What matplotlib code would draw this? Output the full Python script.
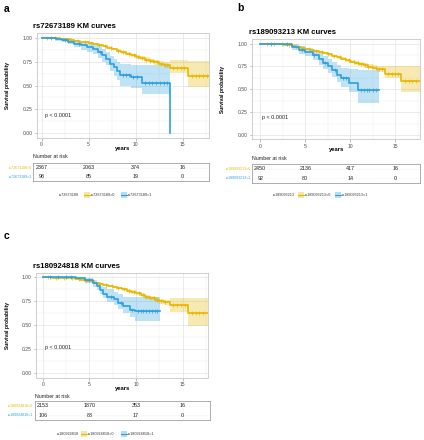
import numpy as np
import matplotlib
matplotlib.use("Agg")
import matplotlib.pyplot as plt
from matplotlib.patches import Rectangle

plt.rcParams['font.family'] = ['Liberation Sans', 'DejaVu Sans']

W, H = 424, 440
YEL = '#E7B800'
BLU = '#2E9FDF'

# ---------------- data ----------------
snps = ['rs72673189', 'rs189093213', 'rs180924818']
time_ticks = [0, 5, 10, 15]
surv_ticks = [0.0, 0.25, 0.5, 0.75, 1.0]
surv_tick_labels = ['0.00', '0.25', '0.50', '0.75', '1.00']

# panel a
ya_t = [0, 0.5, 1, 1.5, 2, 2.5, 3, 3.5, 4, 4.5, 5, 5.5, 6, 6.5, 7, 7.5, 8, 8.5, 9, 9.5,
        10, 10.5, 11, 11.5, 12, 12.5, 13, 13.7, 15.6, 17.9]
ya_s = [1.0, 0.999, 0.997, 0.994, 0.99, 0.984, 0.976, 0.968, 0.96, 0.953, 0.945, 0.935, 0.925, 0.911,
        0.897, 0.882, 0.866, 0.85, 0.833, 0.817, 0.80, 0.786, 0.772, 0.758, 0.745, 0.73, 0.716, 0.68, 0.60, 0.60]
ya_lo = [1.0, 0.998, 0.995, 0.991, 0.986, 0.979, 0.97, 0.961, 0.953, 0.945, 0.936, 0.925, 0.914, 0.899,
         0.884, 0.868, 0.851, 0.834, 0.816, 0.799, 0.781, 0.765, 0.75, 0.734, 0.719, 0.702, 0.685, 0.63, 0.48, 0.48]
ya_hi = [1.0, 1.0, 0.999, 0.997, 0.994, 0.989, 0.982, 0.975, 0.967, 0.961, 0.954, 0.945, 0.936, 0.923,
         0.91, 0.896, 0.881, 0.866, 0.85, 0.835, 0.819, 0.807, 0.794, 0.782, 0.771, 0.758, 0.747, 0.77, 0.76, 0.76]
ba_t = [0, 1.5, 2.2, 2.8, 3.5, 4.2, 4.8, 5.5, 6.0, 6.4, 6.9, 7.3, 7.7, 8.0, 8.4, 9.5, 10.7, 13.65]
ba_s = [1.0, 0.99, 0.98, 0.96, 0.94, 0.92, 0.90, 0.88, 0.85, 0.82, 0.78, 0.73, 0.69, 0.65, 0.61, 0.59, 0.53, 0.0]
ba_lo = [1.0, 0.97, 0.955, 0.93, 0.905, 0.875, 0.85, 0.825, 0.79, 0.75, 0.71, 0.65, 0.60, 0.555, 0.50, 0.47, 0.41, 0.41]
ba_hi = [1.0, 1.0, 1.0, 0.99, 0.975, 0.96, 0.945, 0.93, 0.91, 0.885, 0.85, 0.81, 0.78, 0.75, 0.73, 0.72, 0.72, 0.72]
ya_cens = [0.6, 1.4, 2.3, 3.1, 3.9, 4.6, 5.3, 6.1, 6.8, 7.4, 8.1, 8.7, 9.3, 9.8, 10.3, 10.7, 11.1, 11.5,
           11.9, 12.3, 12.7, 13.1, 13.4, 14.0, 14.4, 14.8, 15.2, 16.0, 16.4, 16.8, 17.2, 17.6]
ba_cens = [1.0, 2.5, 4.0, 6.2, 8.7, 9.0, 9.3, 9.7, 10.2, 11.0, 11.4, 11.8, 12.2, 12.6, 13.0, 13.3]
risk_a0 = [2367, 2063, 374, 16]
risk_a1 = [98, 85, 19, 0]

# panel b
yb_t = [0, 1, 1.5, 2, 2.5, 3, 3.5, 4, 4.5, 5, 5.5, 6, 6.5, 7, 7.5, 8, 8.5, 9, 9.5,
        10, 10.5, 11, 11.5, 12, 12.5, 13, 13.9, 15.6, 17.8]
yb_s = [1.0, 0.999, 0.997, 0.995, 0.989, 0.982, 0.974, 0.965, 0.955, 0.945, 0.935, 0.924, 0.91, 0.896,
        0.881, 0.866, 0.85, 0.833, 0.817, 0.80, 0.786, 0.772, 0.76, 0.748, 0.735, 0.722, 0.67, 0.59, 0.59]
yb_lo = [1.0, 0.998, 0.995, 0.992, 0.985, 0.977, 0.968, 0.959, 0.948, 0.937, 0.926, 0.914, 0.899, 0.884,
         0.868, 0.852, 0.835, 0.817, 0.8, 0.782, 0.767, 0.751, 0.737, 0.723, 0.707, 0.69, 0.62, 0.47, 0.47]
yb_hi = [1.0, 1.0, 0.999, 0.998, 0.993, 0.987, 0.98, 0.971, 0.962, 0.953, 0.944, 0.934, 0.921, 0.908,
         0.894, 0.88, 0.865, 0.849, 0.834, 0.818, 0.805, 0.793, 0.783, 0.773, 0.763, 0.754, 0.75, 0.75, 0.75]
bb_t = [0, 2.8, 3.5, 4.3, 5.0, 5.8, 6.5, 7.0, 7.5, 8.0, 8.5, 9.0, 9.8, 10.9, 13.2]
bb_s = [1.0, 0.99, 0.96, 0.93, 0.91, 0.87, 0.83, 0.79, 0.75, 0.71, 0.66, 0.62, 0.57, 0.49, 0.49]
bb_lo = [1.0, 0.97, 0.93, 0.89, 0.86, 0.815, 0.77, 0.72, 0.68, 0.63, 0.575, 0.53, 0.47, 0.35, 0.35]
bb_hi = [1.0, 1.0, 0.99, 0.97, 0.955, 0.93, 0.895, 0.86, 0.83, 0.80, 0.76, 0.73, 0.72, 0.71, 0.71]
yb_cens = [0.7, 1.5, 2.4, 3.2, 4.0, 4.7, 5.4, 6.2, 6.9, 7.5, 8.2, 8.8, 9.4, 9.9, 10.4, 10.8, 11.2, 11.6,
           12.0, 12.4, 12.8, 13.2, 13.5, 14.2, 14.6, 15.0, 15.3, 16.1, 16.5, 16.9, 17.3]
bb_cens = [1.2, 3.0, 4.6, 6.0, 7.2, 8.3, 9.2, 9.5, 11.2, 11.5, 11.8, 12.1, 12.5, 12.9]
risk_b0 = [2450, 2136, 417, 16]
risk_b1 = [92, 80, 14, 0]

# panel c
yc_t = [0, 1, 1.5, 2, 2.5, 3, 3.5, 4, 4.5, 5, 5.5, 6, 6.5, 7, 7.5, 8, 8.5, 9, 9.5,
        10, 10.5, 11, 11.5, 12, 12.5, 13, 13.6, 15.6, 17.7]
yc_s = [1.0, 0.999, 0.998, 0.997, 0.994, 0.99, 0.984, 0.976, 0.967, 0.958, 0.947, 0.936, 0.925, 0.914,
        0.902, 0.89, 0.876, 0.862, 0.847, 0.832, 0.816, 0.80, 0.783, 0.766, 0.752, 0.738, 0.71, 0.625, 0.625]
yc_lo = [1.0, 0.998, 0.996, 0.995, 0.991, 0.986, 0.979, 0.97, 0.96, 0.95, 0.938, 0.926, 0.914, 0.902,
         0.889, 0.876, 0.861, 0.846, 0.83, 0.814, 0.797, 0.779, 0.761, 0.742, 0.725, 0.708, 0.64, 0.49, 0.49]
yc_hi = [1.0, 1.0, 1.0, 0.999, 0.997, 0.994, 0.989, 0.982, 0.974, 0.966, 0.956, 0.946, 0.936, 0.926,
         0.915, 0.904, 0.891, 0.878, 0.864, 0.85, 0.835, 0.821, 0.805, 0.79, 0.779, 0.768, 0.78, 0.78, 0.78]
bc_t = [0, 3.6, 4.5, 5.4, 5.8, 6.1, 6.5, 6.85, 7.6, 8.1, 8.6, 9.4, 9.9, 12.6]
bc_s = [1.0, 0.99, 0.97, 0.94, 0.91, 0.87, 0.83, 0.80, 0.77, 0.73, 0.70, 0.66, 0.65, 0.65]
bc_lo = [1.0, 0.97, 0.945, 0.905, 0.87, 0.825, 0.78, 0.745, 0.71, 0.665, 0.63, 0.585, 0.54, 0.54]
bc_hi = [1.0, 1.0, 0.995, 0.975, 0.95, 0.915, 0.90, 0.88, 0.85, 0.83, 0.80, 0.79, 0.79, 0.79]
yc_cens = [0.6, 1.4, 2.3, 3.1, 3.9, 4.6, 5.3, 6.1, 6.8, 7.4, 8.1, 8.7, 9.3, 9.8, 10.3, 10.7, 11.1, 11.5,
           11.9, 12.3, 12.7, 13.1, 14.0, 14.4, 14.8, 15.2, 16.0, 16.4, 16.8, 17.2]
bc_cens = [0.8, 1.6, 2.5, 3.0, 5.0, 7.3, 8.4, 9.6, 10.2, 10.5, 10.8, 11.1, 11.4, 11.7, 12.0, 12.3]
risk_c0 = [2153, 1870, 353, 16]
risk_c1 = [106, 88, 17, 0]

# ---------------- layout (pixels) ----------------
fig = plt.figure(figsize=(W / 100, H / 100), dpi=100)


def ax_px(x0, y0, x1, y1):
    return fig.add_axes([x0 / W, 1 - y1 / H, (x1 - x0) / W, (y1 - y0) / H])


def step_val(t, s, x):
    i = np.searchsorted(np.asarray(t), x, side='right') - 1
    return np.asarray(s)[i]


panels = [
    dict(snp=snps[0], letter='a', letter_xy=(4, 9), title_xy=(33, 27),
         box=(37, 33, 209, 138), t0=41.5, ppy=9.4,
         curves=[(ya_t, ya_s, ya_lo, ya_hi, ya_cens, YEL), (ba_t, ba_s, ba_lo, ba_hi, ba_cens, BLU)],
         ylab_x=8, years_xy=(123, 148), p_xy=(45, 115),
         nar_xy=(33, 157), tbox=(33, 163, 209, 181), lab_right=32,
         risk=(risk_a0, risk_a1),
         leg_y=195, leg_x=[59, 84, 91, 121, 128]),
    dict(snp=snps[1], letter='b', letter_xy=(237, 8), title_xy=(249, 33),
         box=(252, 39, 420, 139.5), t0=260.3, ppy=9.0,
         curves=[(yb_t, yb_s, yb_lo, yb_hi, yb_cens, YEL), (bb_t, bb_s, bb_lo, bb_hi, bb_cens, BLU)],
         ylab_x=222, years_xy=(337, 150), p_xy=(262, 117),
         nar_xy=(252, 159), tbox=(252, 164, 420, 183), lab_right=251,
         risk=(risk_b0, risk_b1),
         leg_y=195, leg_x=[273, 298, 305, 335, 342]),
    dict(snp=snps[2], letter='c', letter_xy=(4, 236), title_xy=(33, 266),
         box=(36, 272.7, 208, 377.5), t0=42.7, ppy=9.33,
         curves=[(yc_t, yc_s, yc_lo, yc_hi, yc_cens, YEL), (bc_t, bc_s, bc_lo, bc_hi, bc_cens, BLU)],
         ylab_x=8, years_xy=(123, 388), p_xy=(45, 347),
         nar_xy=(35, 396), tbox=(35, 401, 210, 420), lab_right=33,
         risk=(risk_c0, risk_c1),
         leg_y=434, leg_x=[57, 81, 88, 121, 128]),
]

for P in panels:
    x0, y0, x1, y1 = P['box']
    ax = ax_px(x0, y0, x1, y1)
    ax.set_xlim((x0 - P['t0']) / P['ppy'], (x1 - P['t0']) / P['ppy'])
    ax.set_ylim(-0.05, 1.05)
    ax.set_xticks(time_ticks)
    ax.set_xticks([2.5, 7.5, 12.5, 17.5], minor=True)
    ax.set_yticks(surv_ticks)
    ax.set_yticklabels(surv_tick_labels)
    ax.set_yticks([0.125, 0.375, 0.625, 0.875], minor=True)
    ax.grid(True, which='major', color='#E3E3E3', lw=0.5)
    ax.grid(True, which='minor', color='#EEEEEE', lw=0.35)
    ax.set_axisbelow(True)
    for sp in ax.spines.values():
        sp.set_color('#C8C8C8')
        sp.set_linewidth(0.6)
    ax.tick_params(which='major', length=1.8, width=0.4, color='#888888', labelsize=3.6,
                   labelcolor='#4D4D4D', pad=1.2)
    ax.tick_params(which='minor', length=0)

    for (t, s, lo, hi, cens, col) in P['curves']:
        ax.fill_between(t, lo, hi, step='post', color=col, alpha=0.3, lw=0)
        ax.step(t, s, where='post', color=col, lw=1.2)
        cy = [step_val(t, s, c) for c in cens]
        ax.plot(cens, cy, ls='none', marker='+', ms=2.6, mew=0.5, color=col)

    fig.text(P['p_xy'][0] / W, 1 - P['p_xy'][1] / H, 'p < 0.0001', fontsize=3.9,
             ha='left', va='center', color='#222222')
    fig.text(P['title_xy'][0] / W, 1 - P['title_xy'][1] / H, P['snp'] + ' KM curves',
             fontsize=5.6, fontweight='bold', ha='left', va='center')
    fig.text(P['letter_xy'][0] / W, 1 - P['letter_xy'][1] / H, P['letter'],
             fontsize=7.5, fontweight='bold', ha='left', va='center')
    fig.text(P['ylab_x'] / W, 1 - ((y0 + y1) / 2) / H, 'Survival probability', rotation=90,
             fontsize=3.6, fontweight='bold', ha='center', va='center')
    fig.text(P['years_xy'][0] / W, 1 - P['years_xy'][1] / H, 'years',
             fontsize=4.2, fontweight='bold', ha='center', va='center')

    # risk table
    fig.text(P['nar_xy'][0] / W, 1 - P['nar_xy'][1] / H, 'Number at risk',
             fontsize=3.8, ha='left', va='center', color='#222222')
    tx0, ty0, tx1, ty1 = P['tbox']
    tax = ax_px(tx0, ty0, tx1, ty1)
    tax.set_xlim((tx0 - P['t0']) / P['ppy'], (tx1 - P['t0']) / P['ppy'])
    tax.set_ylim(0, 2)
    tax.set_xticks(time_ticks)
    tax.set_yticks([0.5, 1.5])
    tax.tick_params(length=0, labelbottom=False, labelleft=False)
    tax.grid(True, color='#EEEEEE', lw=0.4, ls=(0, (2, 1)))
    for sp in tax.spines.values():
        sp.set_color('#A0A0A0')
        sp.set_linewidth(0.6)
    for row_y, vals in zip([1.5, 0.5], P['risk']):
        for tt, v in zip(time_ticks, vals):
            tax.text(tt, row_y, str(v), fontsize=3.9, ha='center', va='center', color='#222222')
    row_px = [ty0 + (ty1 - ty0) * 0.27, ty0 + (ty1 - ty0) * 0.75]
    for ry, lab, col in zip(row_px, ['=0', '=1'], [YEL, BLU]):
        fig.text(P['lab_right'] / W, 1 - ry / H, P['snp'] + lab, fontsize=2.6,
                 ha='right', va='center', color=col)

    # legend
    ly = 1 - P['leg_y'] / H
    lx = P['leg_x']
    fig.text(lx[0] / W, ly, P['snp'], fontsize=2.7, ha='left', va='center', color='#333333')
    fig.text(lx[2] / W, ly, P['snp'] + '=0', fontsize=2.7, ha='left', va='center', color='#333333')
    fig.text(lx[4] / W, ly, P['snp'] + '=1', fontsize=2.7, ha='left', va='center', color='#333333')
    for kx, col in [(lx[1], YEL), (lx[3], BLU)]:
        fig.patches.append(Rectangle((kx / W, (H - P['leg_y'] - 3) / H), 5.5 / W, 6 / H,
                                     transform=fig.transFigure, facecolor=col, alpha=0.35, lw=0))
        fig.lines.append(plt.Line2D([kx / W, (kx + 5.5) / W], [ly, ly], transform=fig.transFigure,
                                    color=col, lw=0.8))

fig.savefig('out.png', dpi=100, facecolor='white')
